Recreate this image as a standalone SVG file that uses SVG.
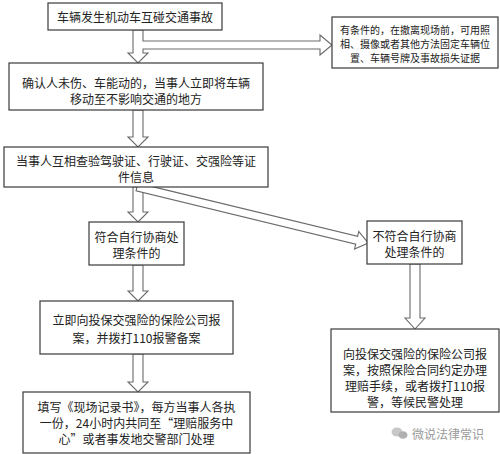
<svg xmlns="http://www.w3.org/2000/svg" width="500" height="454" viewBox="0 0 500 454">
<style>
.box{fill:#fff;stroke:#3a3a3a;stroke-width:1.2}
.arr{fill:#fff;stroke:#6a6a6a;stroke-width:1.1;stroke-linejoin:miter}
text{font-family:"Noto Sans CJK SC","Noto Sans CJK JP",sans-serif;fill:#222;text-anchor:middle;dominant-baseline:central}
.t{font-size:12px}
.s{font-size:10px}
.wm{font-size:12px;fill:#9a9a9a;text-anchor:start}
</style>
<rect width="500" height="454" fill="#fff"/>
<g id="connectors">
<path class="arr" d="M133,30 L133,53 L128,53 L138,63 L148,53 L143,53 L143,49 L320,49 L320,55 L332,45 L320,35 L320,41 L143,41 L143,30 Z"/>
<path class="arr" d="M133,110 L133,137 L128,137 L138,147 L148,137 L143,137 L143,110 Z"/>
<path class="arr" d="M133,187 L133,212 L128,212 L138,222 L148,212 L143,212 L143,187 Z"/>
<g transform="translate(137,187) rotate(13.63)"><path class="arr" d="M0,-4 L226,-4 L226,-9 L238,0 L226,9 L226,4 L0,4 Z"/></g>
<path class="arr" d="M133,265 L133,291 L128,291 L138,301 L148,291 L143,291 L143,265 Z"/>
<path class="arr" d="M133,354 L133,382 L128,382 L138,392 L148,382 L143,382 L143,354 Z"/>
<path class="arr" d="M410,264 L410,318 L405,318 L415,329 L425,318 L420,318 L420,264 Z"/>
</g>
<g id="n1"><rect class="box" x="48" y="3" width="174" height="27"/><text class="t" x="135" y="16">车辆发生机动车互碰交通事故</text></g>
<g id="n2"><rect class="box" x="332" y="17" width="166" height="51"/><text class="s" x="415" y="29">有条件的，在撤离现场前，可用照</text><text class="s" x="415" y="43">相、摄像或者其他方法固定车辆位</text><text class="s" x="415" y="57">置、车辆号牌及事故损失证据</text></g>
<g id="n3"><rect class="box" x="9" y="63" width="254" height="47"/><text class="t" x="136" y="82">确认人未伤、车能动的，当事人立即将车辆</text><text class="t" x="136" y="98">移动至不影响交通的地方</text></g>
<g id="n4"><rect class="box" x="4" y="147" width="264" height="40"/><text class="t" x="136" y="160">当事人互相查验驾驶证、行驶证、交强险等证</text><text class="t" x="136" y="176">件信息</text></g>
<g id="n5"><rect class="box" x="89" y="222" width="95" height="43"/><text class="t" x="136.5" y="236">符合自行协商处</text><text class="t" x="136.5" y="252">理条件的</text></g>
<g id="n6"><rect class="box" x="367" y="221" width="95" height="43"/><text class="t" x="414.5" y="235">不符合自行协商</text><text class="t" x="414.5" y="251">处理条件的</text></g>
<g id="n7"><rect class="box" x="40" y="301" width="193" height="53"/><text class="t" x="136.5" y="319">立即向投保交强险的保险公司报</text><text class="t" x="136.5" y="337">案，并拨打110报警备案</text></g>
<g id="n8"><rect class="box" x="23" y="392" width="227" height="61"/><text class="t" x="136.5" y="406">填写《现场记录书》，每方当事人各执</text><text class="t" x="136.5" y="422">一份，24小时内共同至“理赔服务中</text><text class="t" x="136.5" y="438">心”或者事发地交警部门处理</text></g>
<g id="n9"><rect class="box" x="331" y="329" width="168" height="83"/><text class="t" x="415" y="353">向投保交强险的保险公司报</text><text class="t" x="415" y="369">案，按照保险合同约定办理</text><text class="t" x="415" y="385">理赔手续，或者拨打110报</text><text class="t" x="415" y="401">警，等候民警处理</text></g>
<g id="watermark"><ellipse cx="397" cy="432" rx="5.5" ry="4.5" fill="#c8c8c8"/><ellipse cx="403" cy="435" rx="4.5" ry="3.8" fill="#b0b0b0"/><text class="wm" x="412" y="433">微说法律常识</text></g>
</svg>
